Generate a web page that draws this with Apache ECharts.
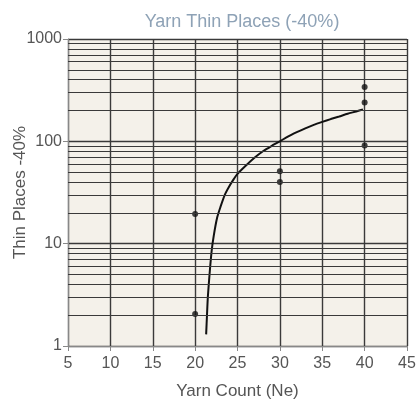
<!DOCTYPE html>
<html>
<head>
<meta charset="utf-8">
<script src="https://cdn.jsdelivr.net/npm/echarts@6/dist/echarts.min.js"></script>
<style>html,body{margin:0;padding:0;background:#fff}#c{width:417px;height:400px}</style>
</head>
<body>
<div id="c"></div>
<script>
const titleText = "Yarn Thin Places (-40%)";
const xName = "Yarn Count (Ne)";
const yName = "Thin Places -40%";
const xTicks = [5, 10, 15, 20, 25, 30, 35, 40, 45];
const yTicks = [1, 10, 100, 1000];
const minorLines = [2,3,4,5,6,7,8,9,20,30,40,50,60,70,80,90,200,300,400,500,600,700,800,900];
const pointX = [20, 20, 30, 30, 40, 40, 40];
const pointY = [19.5, 2.05, 51, 40, 340, 240, 91];
const curveX = [21.3, 21.4, 21.5, 21.7, 21.95, 22.2, 22.6, 23, 23.5, 24, 24.5, 25, 26, 27, 28, 29, 30, 31, 32, 33, 34, 35, 36, 37, 38, 39, 39.8];
const curveY = [1.3, 2.0, 3.0, 5.0, 8.5, 12, 18, 23, 30, 36, 42, 48, 58, 69, 80, 90, 100, 112, 123, 134, 145, 155, 165, 175, 186, 196, 205];

const font = "Liberation Sans, Arial, sans-serif";
const chart = echarts.init(document.getElementById('c'), null, {renderer: 'canvas'});
chart.setOption({
  animation: false,
  backgroundColor: '#ffffff',
  title: {
    text: titleText, left: 237, top: 8, textAlign: 'center',
    textStyle: {color: '#8ea2b6', fontSize: 18, fontWeight: 'normal', fontFamily: font}
  },
  grid: {left: 68, right: 10, top: 39, bottom: 54, containLabel: false, outerBoundsMode: 'none',
         show: true, backgroundColor: '#f4f1ea', borderWidth: 0},
  xAxis: {
    type: 'value', min: xTicks[0], max: xTicks[xTicks.length-1], interval: 5,
    name: xName, nameLocation: 'middle', nameGap: 37, nameMoveOverlap: false,
    nameTextStyle: {color: '#555', fontSize: 17, fontFamily: font},
    axisLine: {lineStyle: {color: '#888', width: 1}},
    axisTick: {show: true, length: 5, lineStyle: {color: '#888'}},
    axisLabel: {color: '#555', fontSize: 16, fontFamily: font, margin: 10},
    splitLine: {show: true, lineStyle: {color: '#3a3a3a', width: 1.4}}
  },
  yAxis: {
    type: 'log', logBase: 10, min: yTicks[0], max: yTicks[yTicks.length-1],
    name: yName, nameLocation: 'middle', nameGap: 39, nameRotate: 90, nameMoveOverlap: false,
    nameTextStyle: {color: '#555', fontSize: 17, fontFamily: font},
    axisLine: {show: true, lineStyle: {color: '#888', width: 1}},
    axisTick: {show: true, length: 5, lineStyle: {color: '#888'}},
    axisLabel: {color: '#555', fontSize: 16, fontFamily: font, margin: 6, formatter: v => String(Math.round(v))},
    splitLine: {show: true, lineStyle: {color: '#3a3a3a', width: 1.4}}
  },
  series: [
    {
      type: 'line', data: [], silent: true,
      markLine: {
        silent: true, symbol: 'none', label: {show: false},
        lineStyle: {color: '#3a3a3a', width: 1.2, type: 'solid'},
        data: minorLines.map(v => ({yAxis: v}))
      }
    },
    {
      type: 'line', smooth: 0.25, showSymbol: false,
      data: curveX.map((x, i) => [x, curveY[i]]),
      lineStyle: {color: '#111', width: 2}
    },
    {
      type: 'scatter', symbol: 'circle', symbolSize: 6,
      data: pointX.map((x, i) => [x, pointY[i]]),
      itemStyle: {color: '#111'}
    }
  ]
});
</script>
</body>
</html>
